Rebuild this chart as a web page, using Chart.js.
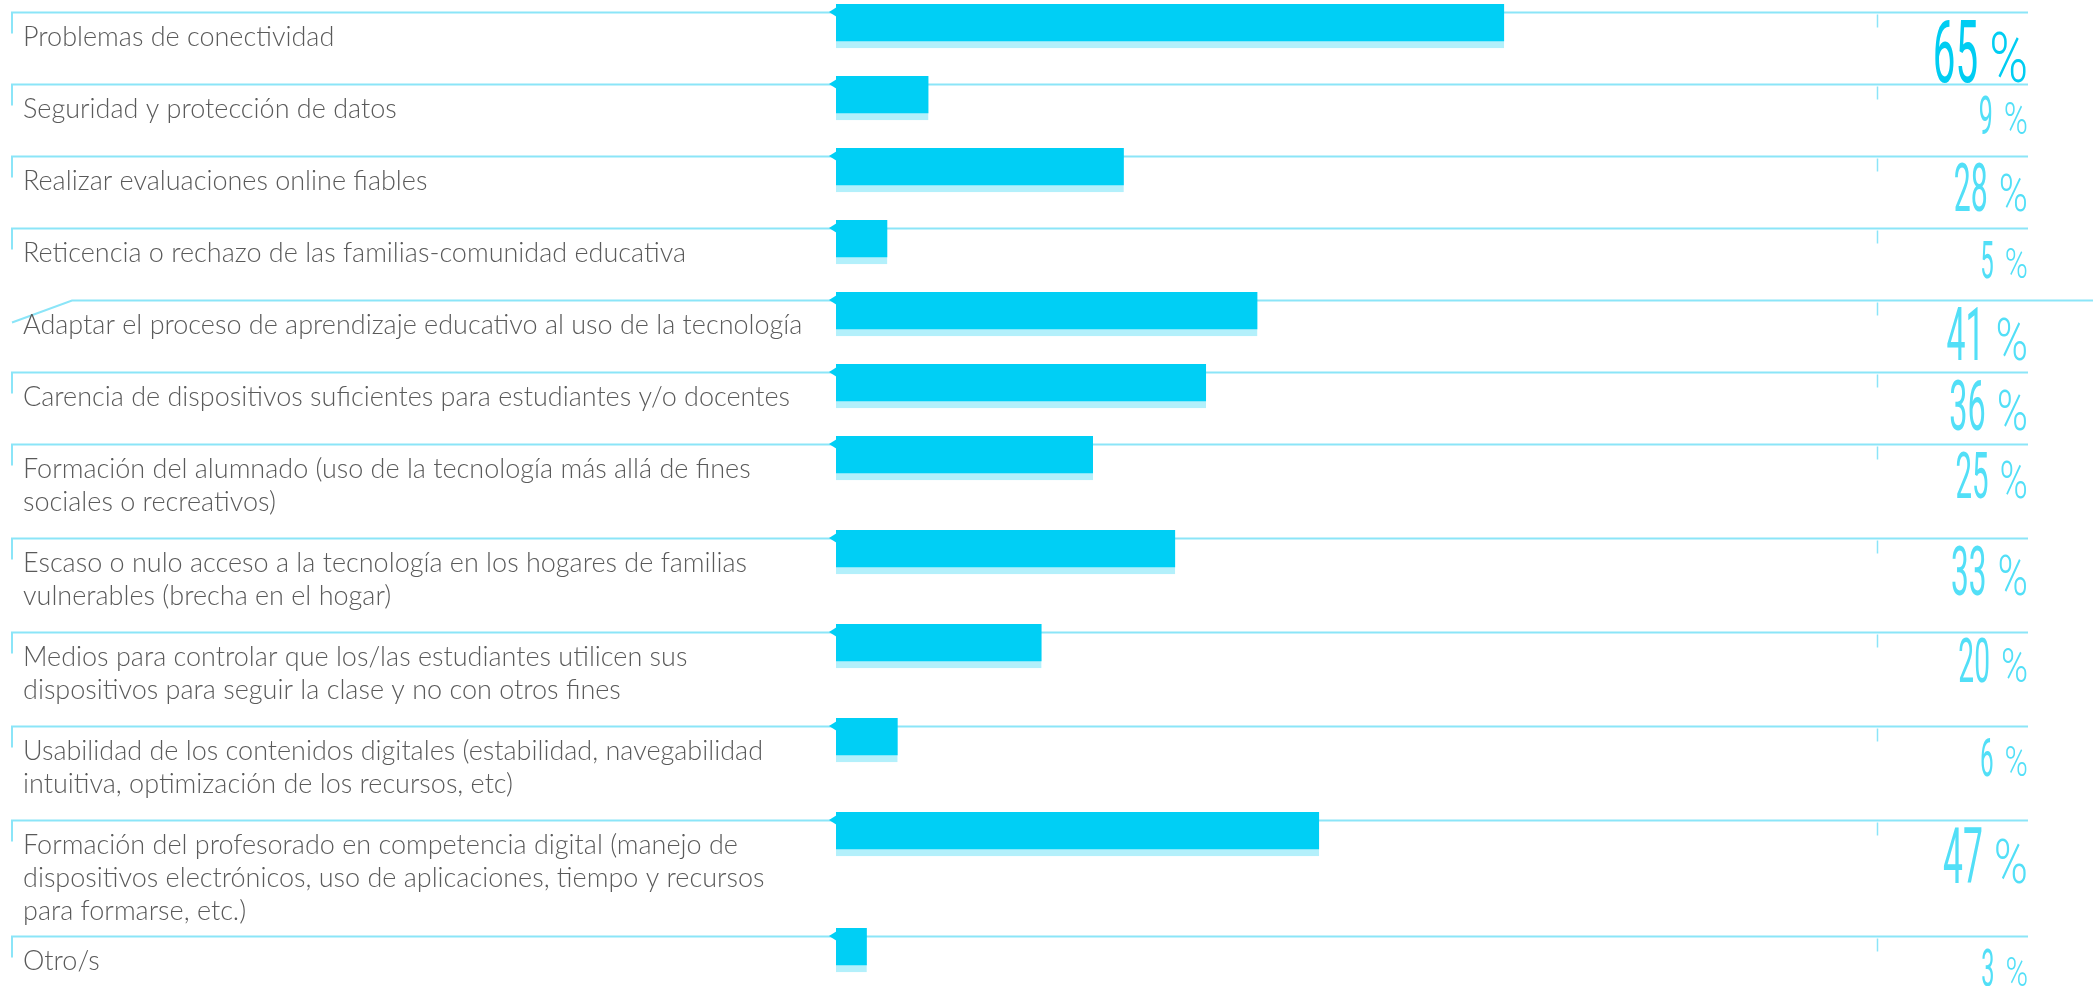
<!DOCTYPE html>
<html>
<head>
<meta charset="utf-8">
<script src="https://cdn.jsdelivr.net/npm/chart.js@4.4.1/dist/chart.umd.min.js"></script>
<style>
    html, body { margin: 0; padding: 0; background: #fff; }
    #wrap { width: 2093px; height: 986px; position: relative; }
</style>
</head>
<body>
<div id="wrap"><canvas id="retosChart"></canvas></div>
<script>
// Categories (label lines as they wrap in the original)
const categories = [
    ['Problemas de conectividad'],
    ['Seguridad y protección de datos'],
    ['Realizar evaluaciones online fiables'],
    ['Reticencia o rechazo de las familias-comunidad educativa'],
    ['Adaptar el proceso de aprendizaje educativo al uso de la tecnología'],
    ['Carencia de dispositivos suficientes para estudiantes y/o docentes'],
    ['Formación del alumnado (uso de la tecnología más allá de fines', 'sociales o recreativos)'],
    ['Escaso o nulo acceso a la tecnología en los hogares de familias', 'vulnerables (brecha en el hogar)'],
    ['Medios para controlar que los/las estudiantes utilicen sus', 'dispositivos para seguir la clase y no con otros fines'],
    ['Usabilidad de los contenidos digitales (estabilidad, navegabilidad', 'intuitiva, optimización de los recursos, etc)'],
    ['Formación del profesorado en competencia digital (manejo de', 'dispositivos electrónicos, uso de aplicaciones, tiempo y recursos', 'para formarse, etc.)'],
    ['Otro/s']
];

// Percentages
const values = [65, 9, 28, 5, 41, 36, 25, 33, 20, 6, 47, 3];

// Colours
const colors = {
    bar: '#00cff5',
    barShadow: '#b3f0fb',
    rule: '#8be5f8',
    label: '#5a5a5a',
    pctStrong: '#00cdf2',
    pctSoft: '#52dff7'
};

// Row layout: taller rows for labels that wrap
const ROW_BASE = 72;
const ROW_EXTRA_LINE = 22;
const LINE_HEIGHT = 33;
const PLOT_LEFT = 836;
const rowTops = [];
let acc = 12;
categories.forEach(c => {
    rowTops.push(acc);
    acc += ROW_BASE + ROW_EXTRA_LINE * (c.length - 1);
});

const maxValue = Math.max(...values);

// Separator rules, small ticks, category labels
const rowsPlugin = {
    id: 'rows',
    beforeDatasetsDraw(chart) {
        const ctx = chart.ctx;
        const y = chart.scales.y;
        ctx.save();
        rowTops.forEach((t, i) => {
            const py = Math.round(y.getPixelForValue(t)) + 0.5;
            ctx.strokeStyle = colors.rule;
            ctx.lineWidth = 2;
            ctx.beginPath();
            if (i === 4) {
                ctx.moveTo(12, py + 22);
                ctx.lineTo(72, py);
                ctx.lineTo(chart.width, py);
            } else {
                ctx.moveTo(12, py + 21);
                ctx.lineTo(12, py);
                ctx.lineTo(2028, py);
            }
            ctx.stroke();
            ctx.lineWidth = 1.5;
            ctx.beginPath();
            ctx.moveTo(1877.5, py + 2);
            ctx.lineTo(1877.5, py + 15);
            ctx.stroke();

            // category label
            ctx.fillStyle = colors.label;
            ctx.font = '300 27px Lato';
            ctx.textAlign = 'left';
            ctx.textBaseline = 'alphabetic';
            categories[i].forEach((line, k) => {
                ctx.fillText(line, 23, py + 33 + k * LINE_HEIGHT);
            });
        });
        ctx.restore();
    },
    afterDatasetsDraw(chart) {
        const ctx = chart.ctx;
        const x = chart.scales.x;
        const y = chart.scales.y;
        const x0 = x.getPixelForValue(0);
        ctx.save();
        rowTops.forEach((t, i) => {
            const py = y.getPixelForValue(t);
            // notch on the left of each bar
            ctx.fillStyle = colors.bar;
            ctx.beginPath();
            ctx.moveTo(x0 - 7, py);
            ctx.lineTo(x0 + 1, py - 5);
            ctx.lineTo(x0 + 1, py + 5);
            ctx.closePath();
            ctx.fill();

            // percentage label, condensed
            const v = values[i];
            const h = 35 + 0.42 * v;
            const fs = h / 0.711;
            const base = py + (h >= 45 ? h + 8 : 50);
            const right = 2028;
            ctx.fillStyle = v === maxValue ? colors.pctStrong : colors.pctSoft;
            ctx.textBaseline = 'alphabetic';
            ctx.textAlign = 'left';

            const pctFs = fs * 0.8;
            ctx.font = '300 ' + pctFs + 'px Roboto';
            const pctScale = 0.75;
            const pctW = ctx.measureText('%').width * pctScale;
            ctx.save();
            ctx.translate(right - pctW, base);
            ctx.scale(pctScale, 1);
            ctx.fillText('%', 0, 0);
            ctx.restore();

            ctx.font = '400 ' + fs + 'px Roboto';
            const numScale = 0.46;
            const numW = ctx.measureText(String(v)).width * numScale;
            ctx.save();
            ctx.translate(right - pctW - 11 - numW, base);
            ctx.scale(numScale, 1);
            ctx.fillText(String(v), 0, 0);
            ctx.restore();
        });
        ctx.restore();
    }
};

const ctx = document.getElementById('retosChart').getContext('2d');
const chart = new Chart(ctx, {
    type: 'bar',
    data: {
        datasets: [{
            data: values.map((v, i) => ({ x: v, y: rowTops[i] + 14 })),
            backgroundColor: colors.bar,
            borderColor: colors.barShadow,
            borderWidth: { top: 0, right: 0, bottom: 7, left: 0 },
            borderSkipped: false,
            barThickness: 44
        }]
    },
    options: {
        indexAxis: 'y',
        responsive: true,
        maintainAspectRatio: false,
        animation: false,
        layout: { padding: { left: PLOT_LEFT, right: 229, top: 0, bottom: 0 } },
        plugins: {
            legend: { display: false },
            tooltip: { enabled: false }
        },
        scales: {
            x: {
                type: 'linear',
                display: false,
                min: 0,
                max: 100
            },
            y: {
                type: 'linear',
                display: false,
                offset: false,
                grid: { offset: false },
                reverse: true,
                min: 0,
                max: 986
            }
        }
    },
    plugins: [rowsPlugin]
});
</script>
</body>
</html>
